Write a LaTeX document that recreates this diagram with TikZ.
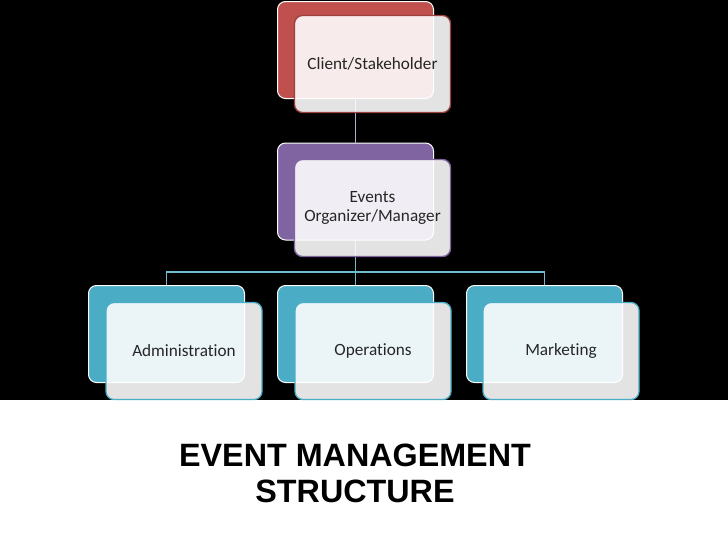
\documentclass[tikz,border=0pt]{standalone}
\usepackage{fontspec}
\setmainfont[Ligatures=NoCommon]{Carlito}
\newfontfamily\titlefont{Liberation Sans}
\definecolor{clientred}{HTML}{C0504D}
\definecolor{managerpurple}{HTML}{8064A2}
\definecolor{teamteal}{HTML}{4BACC6}

\begin{document}
\begin{tikzpicture}[x=1pt,y=-1pt,
  backbox/.style={draw=white,line width=1pt,fill=#1,rounded corners=8pt,
    minimum width=156pt,minimum height=97pt,inner sep=0pt},
  frontbox/.style={draw=#1,line width=1.3pt,fill=white,fill opacity=0.89,
    text opacity=1,text=black!85,rounded corners=8pt,minimum width=156pt,
    minimum height=97pt,inner sep=0pt,align=center,
    font=\fontsize{17.2}{18.5}\selectfont},
  link/.style={line width=1.3pt,draw=#1}]

% Background
\fill[black] (0,0) rectangle (728,400);
\fill[white] (0,400) rectangle (728,546);
\useasboundingbox (0,0) rectangle (728,546);

% Back boxes
\node[backbox=clientred] (client) at (355.5,50) {};
\node[backbox=managerpurple] (manager) at (355.5,191.5) {};
\node[backbox=teamteal] (admin) at (166.5,334) {};
\node[backbox=teamteal] (ops) at (355.5,334) {};
\node[backbox=teamteal] (mkt) at (544.5,334) {};

% Connectors
\coordinate (fork) at (355.5,272);
\draw[link=managerpurple!55!white] (client.south) -- (manager.north);
\draw[link=teamteal!80!white] (manager.south) -- (fork);
\draw[link=teamteal!80!white] (fork) -| (admin.north);
\draw[link=teamteal!80!white] (fork) -| (mkt.north);
\draw[link=teamteal!80!white] (fork) -- (ops.north);

% Front boxes
\node[frontbox=clientred!80!black] (clienttext) at (372.5,64) {Client/Stakeholder};
\node[frontbox=managerpurple] (managertext) at (372.5,208) {Events\\Organizer/Manager};
\node[frontbox=teamteal] (admintext) at (184,351) {Administration};
\node[frontbox=teamteal] (opstext) at (373,351) {Operations};
\node[frontbox=teamteal] (mkttext) at (561,351) {Marketing};

% Title
\node[font=\titlefont\bfseries\fontsize{32.3}{36}\selectfont,align=center] (title)
  at (355,473) {EVENT MANAGEMENT\\STRUCTURE};

\end{tikzpicture}
\end{document}
